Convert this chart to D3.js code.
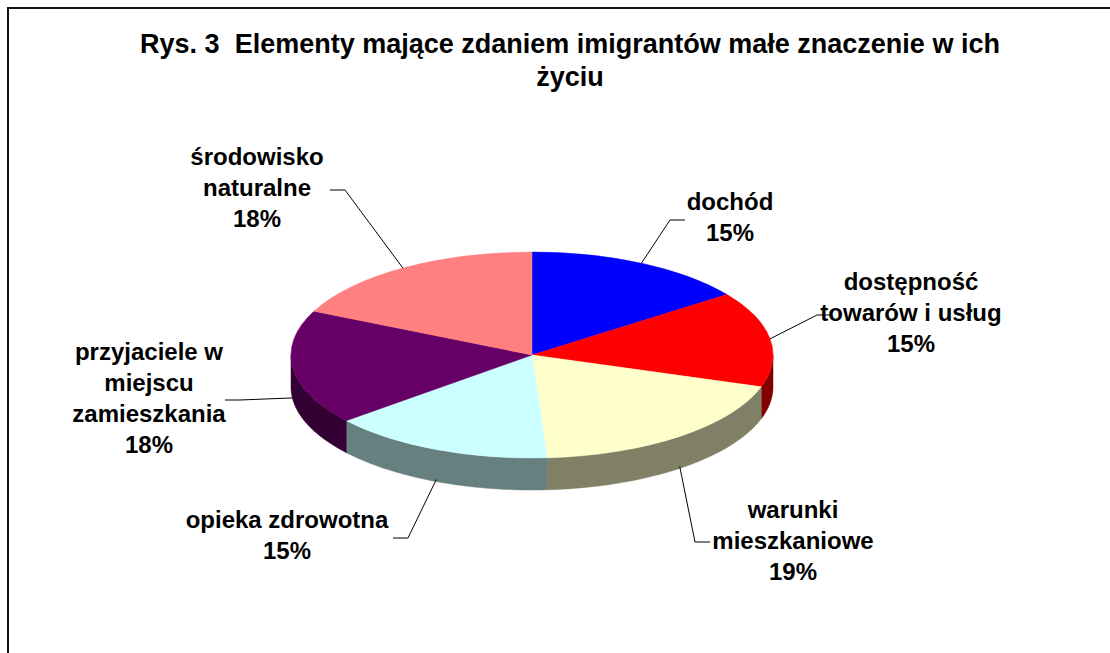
<!DOCTYPE html>
<html>
<head>
<meta charset="utf-8">
<script src="https://cdn.jsdelivr.net/npm/d3@7"></script>
<style>
  html, body { margin: 0; padding: 0; background: #fff; }
  svg { display: block; }
  text { font-family: Arial, "Liberation Sans", sans-serif; font-weight: bold; fill: #000; white-space: pre; }
</style>
</head>
<body>
<script>
// dane wykresu
var titleLines = ["Rys. 3  Elementy mające zdaniem imigrantów małe znaczenie w ich", "życiu"];
var categories = [
  ["dochód"],
  ["dostępność", "towarów i usług"],
  ["warunki", "mieszkaniowe"],
  ["opieka zdrowotna"],
  ["przyjaciele w", "miejscu", "zamieszkania"],
  ["środowisko", "naturalne"]
];
var values = [15, 15, 19, 15, 18, 18];
var topColors = ["#0000ff", "#ff0000", "#ffffcc", "#ccffff", "#660066", "#ff8080"];
var sideColors = ["#000080", "#800000", "#808066", "#668080", "#330033", "#804040"];

// rozmieszczenie etykiet (środek tekstu, pierwsza linia bazowa, załamanie linii)
var labelLayout = [
  { x: 730, y: 210, ex: 670, ey: 220, dir: 1 },
  { x: 911, y: 290, ex: 817, ey: 315, dir: 1 },
  { x: 793, y: 518, ex: 695, ey: 542, dir: 1 },
  { x: 287, y: 528, ex: 408, ey: 538, dir: -1 },
  { x: 149, y: 360, ex: 240, ey: 400, dir: -1 },
  { x: 257, y: 165, ex: 345, ey: 190, dir: -1 }
];

var w = 1110, h = 653;
var cx = 532, cy = 355, rx = 241, ry = 103, depth = 32;
var lineH = 31;

var svg = d3.select("body").append("svg")
  .attr("width", w).attr("height", h);

// ramka wykresu
svg.append("rect")
  .attr("x", 8).attr("y", 8)
  .attr("width", 1300).attr("height", 900)
  .attr("fill", "none")
  .attr("stroke", "#111")
  .attr("stroke-width", 2);

// tytuł
svg.selectAll("text.title")
  .data(titleLines)
  .enter()
  .append("text")
  .attr("class", "title")
  .attr("x", 570)
  .attr("y", function(d, i) { return 53 + i * 33; })
  .attr("text-anchor", "middle")
  .style("font-size", "27px")
  .text(function(d) { return d; });

var pie = d3.pie().sort(null).value(function(d) { return d; });
var arcs = pie(values);

// boczne ściany (tylko przednia połowa elipsy)
var line = d3.line();
var sides = svg.append("g");
arcs.forEach(function(d, i) {
  var a0 = Math.max(d.startAngle, Math.PI / 2);
  var a1 = Math.min(d.endAngle, Math.PI * 1.5);
  if (a1 <= a0) return;
  var pts = [];
  var n = 60;
  for (var k = 0; k <= n; k++) {
    var a = a0 + (a1 - a0) * k / n;
    pts.push([cx + rx * Math.sin(a), cy - ry * Math.cos(a)]);
  }
  for (var k = n; k >= 0; k--) {
    var a = a0 + (a1 - a0) * k / n;
    pts.push([cx + rx * Math.sin(a), cy - ry * Math.cos(a) + depth]);
  }
  sides.append("path")
    .attr("d", line(pts) + "Z")
    .attr("fill", sideColors[i])
    .attr("stroke", sideColors[i])
    .attr("stroke-width", 0.5);
});

// górna powierzchnia
var arc = d3.arc().innerRadius(0).outerRadius(rx);
svg.append("g")
  .attr("transform", "translate(" + cx + "," + cy + ") scale(1," + (ry / rx) + ")")
  .selectAll("path")
  .data(arcs)
  .enter()
  .append("path")
  .attr("d", arc)
  .attr("fill", function(d, i) { return topColors[i]; })
  .attr("stroke", function(d, i) { return topColors[i]; })
  .attr("stroke-width", 0.5)
  .attr("vector-effect", "non-scaling-stroke");

// linie odniesienia
arcs.forEach(function(d, i) {
  var mid = (d.startAngle + d.endAngle) / 2;
  var ax = cx + rx * Math.sin(mid);
  var ay = cy - ry * Math.cos(mid);
  if (Math.cos(mid) < 0) ay += depth - 2;
  var L = labelLayout[i];
  svg.append("path")
    .attr("d", line([[ax, ay], [L.ex, L.ey], [L.ex + L.dir * 15, L.ey]]))
    .attr("fill", "none")
    .attr("stroke", "#000")
    .attr("stroke-width", 1);
});

// etykiety
arcs.forEach(function(d, i) {
  var L = labelLayout[i];
  var lines = categories[i].concat([values[i] + "%"]);
  var t = svg.append("text")
    .attr("text-anchor", "middle")
    .style("font-size", "24px");
  lines.forEach(function(s, j) {
    t.append("tspan")
      .attr("x", L.x)
      .attr("y", L.y + j * lineH)
      .text(s);
  });
});
</script>
</body>
</html>
